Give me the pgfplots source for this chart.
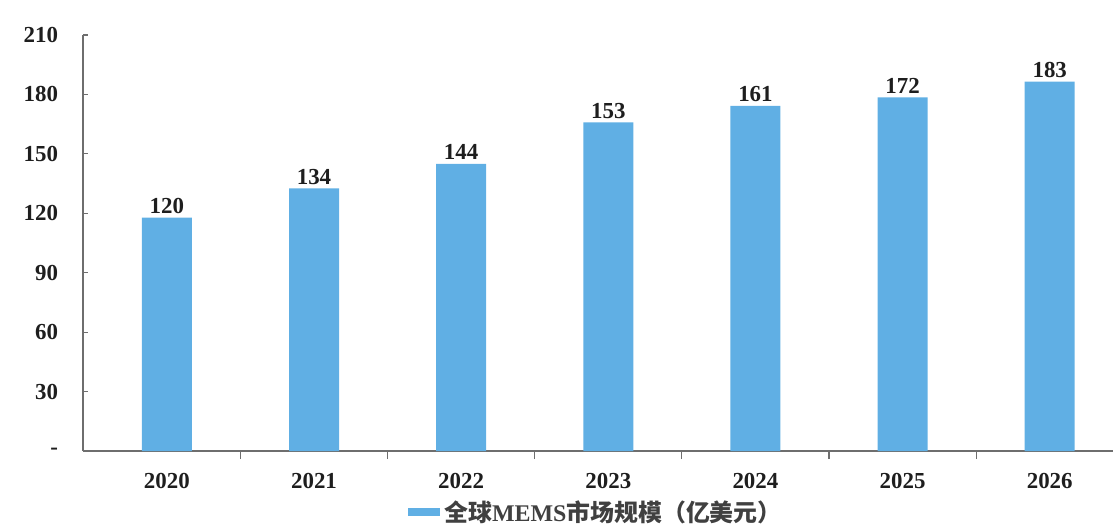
\documentclass[border=0pt]{standalone}
\usepackage{pgfplots}
\pgfplotsset{compat=1.18}
\usepackage{fontspec}
\setmainfont{Liberation Serif}
\newfontfamily\cjk{Noto Sans CJK SC}

\definecolor{barblue}{RGB}{96,175,228}
\definecolor{axisgray}{RGB}{110,110,110}
\definecolor{txt}{RGB}{30,30,30}

\begin{document}
\begin{tikzpicture}
  % page size of the reference, in half pixels
  \path[use as bounding box] (-41.5bp,-37.5bp) rectangle (515bp,225.5bp);
  \begin{axis}[
    scale only axis,
    width=515bp, height=208bp,
    xmin=-0.57, xmax=6.43,
    ymin=0, ymax=210,
    axis x line*=bottom, axis y line*=left,
    axis line style={axisgray, line width=0.6pt},
    xtick={0,...,6},
    xticklabels={2020,2021,2022,2023,2024,2025,2026},
    major x tick style={draw=none},
    minor xtick={0.5,1.5,...,5.5},
    minor x tick style={axisgray, line width=0.6pt},
    minor tick length=4bp,
    ytick={0,30,...,210},
    yticklabels={-,30,60,90,120,150,180,210},
    major y tick style={axisgray, line width=0.6pt},
    major tick length=2.5bp,
    tick align=inside,
    ticklabel style={font=\bfseries\fontsize{11.5}{13}\selectfont, text=txt},
    xticklabel style={yshift=-5bp},
    yticklabel style={xshift=-9bp},
    /pgf/number format/assume math mode=true,
    ybar, bar width=25bp,
    nodes near coords={\pgfplotspointmeta},
    point meta=explicit symbolic,
    nodes near coords style={font=\bfseries\fontsize{11.5}{13}\selectfont, text=txt, yshift=-1.5bp},
    legend style={at={(0.499,-0.147)}, anchor=center, draw=none, fill=none,
      font=\fontsize{12}{14}\selectfont, text=black!75},
    legend image code/.code={\fill[barblue] (0bp,-2bp) rectangle (16bp,2bp);},
  ]
    \addplot[fill=barblue, draw=none] table[meta=label] {
      x y label
      0 117.8 120
      1 132.6 134
      2 144.9 144
      3 165.9 153
      4 174.2 161
      5 178.5 172
      6 186.4 183
    };
    \addlegendentry{{\cjk\bfseries 全球}\textbf{MEMS}{\cjk\bfseries 市场规模（亿美元）}}
  \end{axis}
\end{tikzpicture}
\end{document}
